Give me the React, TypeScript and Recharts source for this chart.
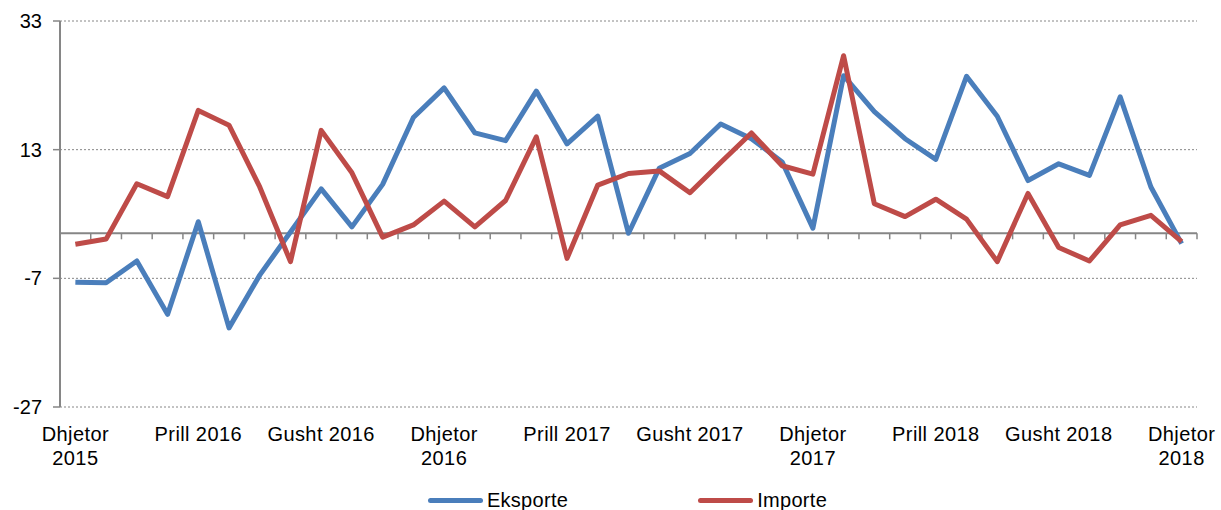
import { LineChart, Line, XAxis, YAxis, CartesianGrid, ReferenceLine, Legend } from "recharts";

const months = [
    "Dhjetor 2015",
    "Janar 2016", "Shkurt 2016", "Mars 2016", "Prill 2016", "Maj 2016", "Qershor 2016",
    "Korrik 2016", "Gusht 2016", "Shtator 2016", "Tetor 2016", "Nëntor 2016", "Dhjetor 2016",
    "Janar 2017", "Shkurt 2017", "Mars 2017", "Prill 2017", "Maj 2017", "Qershor 2017",
    "Korrik 2017", "Gusht 2017", "Shtator 2017", "Tetor 2017", "Nëntor 2017", "Dhjetor 2017",
    "Janar 2018", "Shkurt 2018", "Mars 2018", "Prill 2018", "Maj 2018", "Qershor 2018",
    "Korrik 2018", "Gusht 2018", "Shtator 2018", "Tetor 2018", "Nëntor 2018", "Dhjetor 2018",
];

const eksporte = [
    -7.6, -7.7, -4.3, -12.6, 1.8, -14.7, -6.5, 0.2, 6.9, 1.0, 7.6, 18.0, 22.6,
    15.6, 14.4, 22.1, 13.9, 18.2, 0.0, 10.1, 12.4, 17.0, 14.7, 11.1, 0.8,
    24.5, 18.9, 14.7, 11.5, 24.4, 18.2, 8.2, 10.8, 9.0, 21.2, 7.2, -1.6,
];

const importe = [
    -1.7, -0.9, 7.7, 5.7, 19.1, 16.8, 7.2, -4.4, 16.0, 9.4, -0.6, 1.3, 5.0,
    1.0, 5.1, 15.0, -3.9, 7.5, 9.3, 9.7, 6.3, 11.0, 15.6, 10.5, 9.2,
    27.6, 4.6, 2.6, 5.3, 2.2, -4.4, 6.2, -2.2, -4.3, 1.3, 2.8, -1.3,
];

const yTicks = [-27, -7, 13, 33];

const data = months.map((m, i) => ({
    month: m,
    eksporte: eksporte[i],
    importe: importe[i],
}));

const FONT = "'Liberation Sans', Arial, sans-serif";
const AXIS_GRAY = "#868686";
const BLUE = "#4A7EBB";
const RED = "#BE4B48";

// half a category on each side, so points sit between the ticks
const HALF_CAT = 1137 / months.length / 2;

// zero line with the small category ticks hanging below it
const ZeroAxis = (props: any) => {
    const { x1, y1, x2 } = props;
    const n = months.length;
    const step = (x2 - x1) / n;
    const ticks = [];
    for (let k = 1; k <= n; k++) {
        const x = x1 + step * k;
        ticks.push(
            <line key={k} x1={x} x2={x} y1={y1} y2={y1 + 6} stroke={AXIS_GRAY} strokeWidth={1.5} />
        );
    }
    return (
        <g>
            <line x1={x1} y1={y1} x2={x2} y2={y1} stroke={AXIS_GRAY} strokeWidth={2} />
            {ticks}
        </g>
    );
};

const MonthTick = (props: any) => {
    const { x, y, payload } = props;
    const label: string = payload.value;
    const lines = label.startsWith("Dhjetor") ? label.split(" ") : [label];
    return (
        <text
            x={x}
            y={y}
            textAnchor="middle"
            fill="#000"
            fontSize={20}
            letterSpacing={0.4}
            fontFamily={FONT}
        >
            {lines.map((l, i) => (
                <tspan key={i} x={x} dy={i === 0 ? 34 : 24}>
                    {l}
                </tspan>
            ))}
        </text>
    );
};

const LegendBox = () => {
    const items = [
        { name: "Eksporte", color: BLUE },
        { name: "Importe", color: RED },
    ];
    return (
        <div
            style={{
                display: "flex",
                justifyContent: "center",
                alignItems: "center",
                paddingLeft: 58,
                paddingTop: 12,
                fontFamily: FONT,
                fontSize: 20,
                letterSpacing: 0.3,
                color: "#000",
            }}
        >
            {items.map((it, i) => (
                <div
                    key={it.name}
                    style={{ display: "flex", alignItems: "center", marginLeft: i === 0 ? 0 : 130 }}
                >
                    <span
                        style={{
                            display: "inline-block",
                            width: 55,
                            height: 5,
                            borderRadius: 3,
                            background: it.color,
                            marginRight: 4,
                        }}
                    />
                    <span>{it.name}</span>
                </div>
            ))}
        </div>
    );
};

export default function App() {
    return (
        <div style={{ position: "absolute", left: 0, top: 0, fontFamily: FONT }}>
            <LineChart
                width={1221}
                height={510}
                data={data}
                margin={{ top: 21, right: 24, left: 0, bottom: 0 }}
            >
                <CartesianGrid
                    vertical={false}
                    stroke={AXIS_GRAY}
                    strokeDasharray="2 2"
                />

                <XAxis
                    dataKey="month"
                    interval={3}
                    tick={<MonthTick />}
                    axisLine={false}
                    tickLine={false}
                    tickSize={0}
                    tickMargin={0}
                    height={70}
                    padding={{ left: HALF_CAT, right: HALF_CAT }}
                />

                <YAxis
                    domain={[-27, 33]}
                    ticks={yTicks}
                    interval={0}
                    width={60}
                    axisLine={{ stroke: AXIS_GRAY, strokeWidth: 2 }}
                    tickLine={{ stroke: AXIS_GRAY, strokeWidth: 1.5 }}
                    tickSize={7}
                    tickMargin={11}
                    tick={{ fill: "#000", fontSize: 20, fontFamily: FONT }}
                />

                <ReferenceLine y={0} shape={<ZeroAxis />} />

                <Legend
                    verticalAlign="bottom"
                    height={33}
                    content={<LegendBox />}
                />

                <Line
                    type="linear"
                    dataKey="eksporte"
                    name="Eksporte"
                    stroke={BLUE}
                    strokeWidth={5}
                    strokeLinejoin="round"
                    dot={false}
                    activeDot={false}
                    isAnimationActive={false}
                />
                <Line
                    type="linear"
                    dataKey="importe"
                    name="Importe"
                    stroke={RED}
                    strokeWidth={5}
                    strokeLinejoin="round"
                    dot={false}
                    activeDot={false}
                    isAnimationActive={false}
                />
            </LineChart>
        </div>
    );
}
